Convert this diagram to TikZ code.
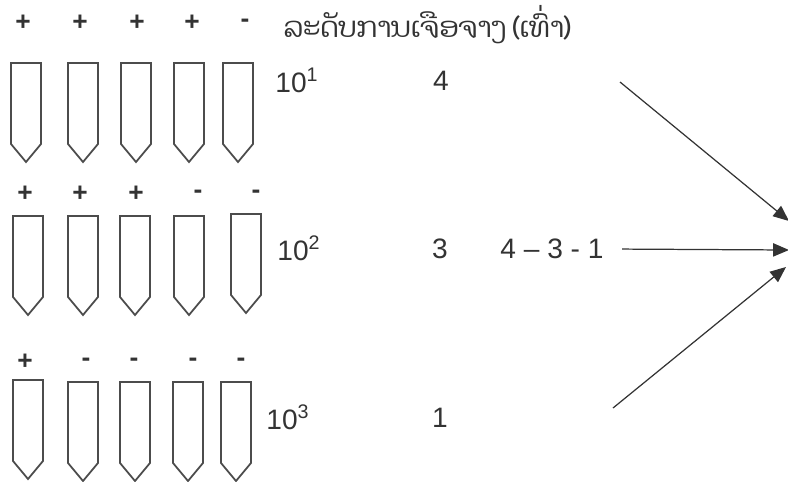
\documentclass[tikz,border=0pt]{standalone}
\usepackage{fontspec}
\setmainfont{Liberation Sans}
\newfontfamily\laofont[Script=Lao]{Dhyana}
\usetikzlibrary{arrows.meta}

\begin{document}
\begin{tikzpicture}[x=0.02cm, y=-0.02cm,
    lbl/.style={font=\fontsize{16}{18}\selectfont, text=black!80},
    sgn/.style={font=\bfseries\fontsize{15}{18}\selectfont, text=black!80, inner sep=0pt},
    tubeline/.style={draw=black!70, line width=1pt, line join=miter},
    tube/.pic={\draw[tubeline] (-15,0) -- (-15,81) -- (0,99) -- (15,81) -- (15,0) -- cycle;},
    arrow/.style={-{Triangle[length=9pt,width=7.5pt]}, draw=black!80, line width=0.7pt}
]
\useasboundingbox (0,0) rectangle (788,481);

% Cabecera
\node[sgn] (p11) at (23,23) {+};
\node[sgn] (p12) at (80,23) {+};
\node[sgn] (p13) at (137,23) {+};
\node[sgn] (p14) at (192,23) {+};
\node[sgn] (p15) at (245,23) {-};
\node[lbl] (head) at (427,25) {\laofont ລະດັບການເຈືອຈາງ (ເທົ່າ)};

% Fila 1: 10^1
\pic (t11) at (26,63) {tube};
\pic (t12) at (83,63) {tube};
\pic (t13) at (136,63) {tube};
\pic (t14) at (189,63) {tube};
\pic (t15) at (238,63) {tube};
\node[lbl] (d1) at (297,80) {10\textsuperscript{1}};
\node[lbl] (n1) at (441,81) {4};

% Fila 2: 10^2
\node[sgn] (p21) at (25,194) {+};
\node[sgn] (p22) at (80,194) {+};
\node[sgn] (p23) at (136,194) {+};
\node[sgn] (p24) at (198,194) {-};
\node[sgn] (p25) at (256,194) {-};
\pic (t21) at (28,216) {tube};
\pic (t22) at (83,216) {tube};
\pic (t23) at (135,216) {tube};
\pic (t24) at (189,216) {tube};
\pic (t25) at (246,214) {tube};
\node[lbl] (d2) at (299,248) {10\textsuperscript{2}};
\node[lbl] (n2) at (440,249) {3};
\node[lbl] (res) at (552,249) {4 – 3 - 1};

% Fila 3: 10^3
\node[sgn] (p31) at (25,362) {+};
\node[sgn] (p32) at (86,362) {-};
\node[sgn] (p33) at (134,362) {-};
\node[sgn] (p34) at (193,362) {-};
\node[sgn] (p35) at (241,362) {-};
\pic (t31) at (28,380) {tube};
\pic (t32) at (83,382) {tube};
\pic (t33) at (135,382) {tube};
\pic (t34) at (188,382) {tube};
\pic (t35) at (236,382) {tube};
\node[lbl] (d3) at (288,417) {10\textsuperscript{3}};
\node[lbl] (n3) at (440,418) {1};

% Flechas
\coordinate (s1) at (620,82);
\coordinate (s3) at (613,408);
\coordinate (e1) at (789,221);
\coordinate (e2) at (789,250);
\coordinate (e3) at (786,267);
\draw[arrow] (s1) -- (e1);
\draw[arrow, shorten <=7pt] (res.east) -- (e2);
\draw[arrow] (s3) -- (e3);
\end{tikzpicture}
\end{document}
